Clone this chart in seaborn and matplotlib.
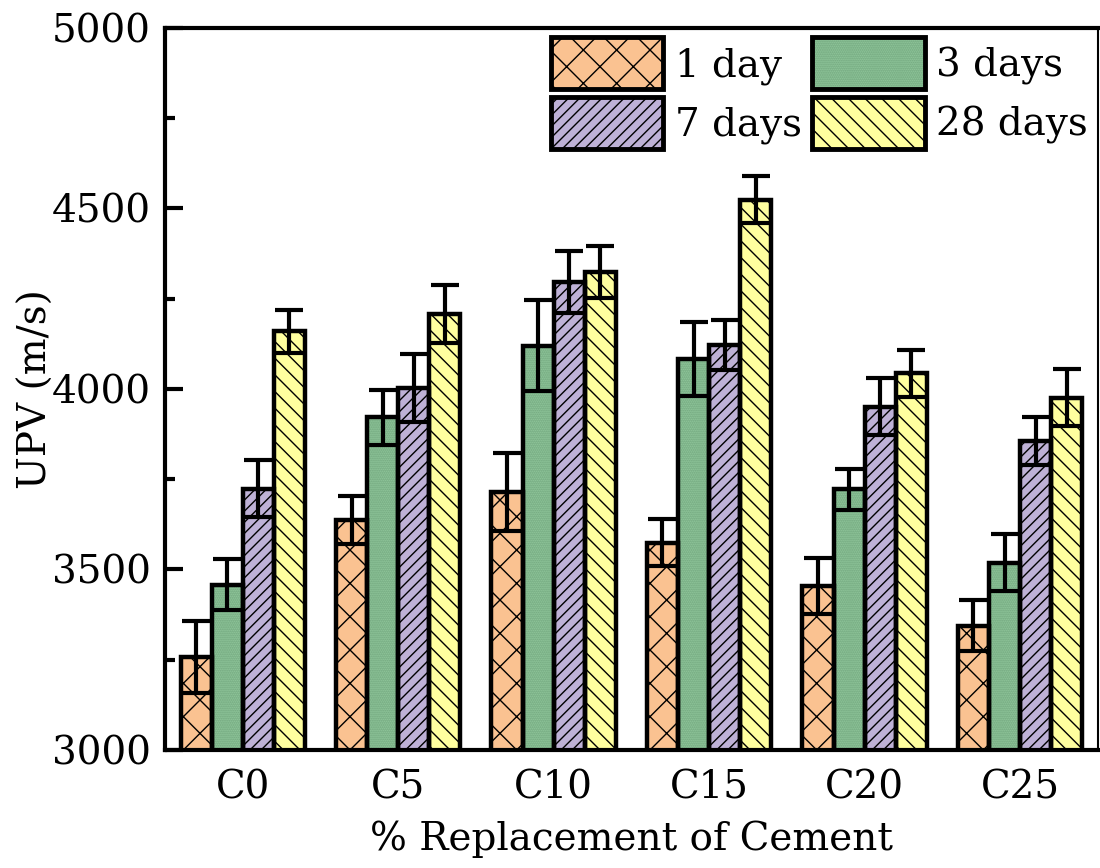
import numpy as np
import pandas as pd
import matplotlib
matplotlib.use("Agg")
import matplotlib.pyplot as plt
import matplotlib.patches as mpatches
from matplotlib.legend_handler import HandlerTuple
from matplotlib.ticker import MultipleLocator
import seaborn as sns

# Mix designs and curing ages
mixes = ["C0", "C5", "C10", "C15", "C20", "C25"]
ages = ["1 day", "3 days", "7 days", "28 days"]

# Mean ultrasonic pulse velocity (m/s)
upv_1d = [3258, 3637, 3715, 3574, 3454, 3344]
upv_3d = [3458, 3921, 4120, 4082, 3722, 3519]
upv_7d = [3724, 4002, 4296, 4122, 3951, 3856]
upv_28d = [4159, 4208, 4325, 4524, 4043, 3976]

# Standard deviations (m/s)
err_1d = [100, 67, 108, 65, 77, 70]
err_3d = [70, 76, 125, 103, 57, 78]
err_7d = [79, 95, 85, 70, 80, 67]
err_28d = [60, 80, 72, 66, 66, 78]

values = [upv_1d, upv_3d, upv_7d, upv_28d]
errors = [err_1d, err_3d, err_7d, err_28d]

fill_colors = ["#FAC291", "#96CDA1", "#BEB1D6", "#FFFF9F"]
hatch_colors = ["black", "#6A9E76", "black", "black"]
hatches = ["x", "........", "///", "\\\\"]

df = pd.DataFrame({
    "mix": np.tile(mixes, len(ages)),
    "age": np.repeat(ages, len(mixes)),
    "upv": np.concatenate(values),
})

sns.set_style("ticks")
plt.rcParams["font.family"] = ["DejaVu Serif"]
plt.rcParams["font.size"] = 28
plt.rcParams["hatch.linewidth"] = 1.0
for key in ["text.color", "axes.labelcolor", "xtick.color", "ytick.color", "axes.edgecolor"]:
    plt.rcParams[key] = "black"

fig = plt.figure(figsize=(11, 8.68), dpi=100)
ax = fig.add_axes([0.15, 0.136, 0.848, 0.832])

sns.barplot(data=df, x="mix", y="upv", hue="age", order=mixes, hue_order=ages,
            palette=fill_colors, saturation=1, errorbar=None, width=0.8,
            legend=False, ax=ax)

bar_containers = list(ax.containers)
for i, cont in enumerate(bar_containers):
    xs = []
    for bar in cont.patches:
        bar.set_hatch(hatches[i])
        bar.set_edgecolor(hatch_colors[i])
        bar.set_linewidth(0)
        outline = mpatches.Rectangle(bar.get_xy(), bar.get_width(), bar.get_height(),
                                     facecolor="none", edgecolor="black", lw=3.2,
                                     zorder=bar.get_zorder() + 0.1)
        ax.add_patch(outline)
        xs.append(bar.get_x() + bar.get_width() / 2)
    ax.errorbar(xs, values[i], yerr=errors[i], fmt="none", ecolor="black",
                elinewidth=3, capsize=10, capthick=3, zorder=5)

ax.set_ylim(3000, 5000)
ax.set_xlim(-0.5, 5.5)
ax.yaxis.set_major_locator(MultipleLocator(500))
ax.yaxis.set_minor_locator(MultipleLocator(250))
ax.tick_params(axis="y", which="major", direction="in", length=13, width=3, pad=10)
ax.tick_params(axis="y", which="minor", direction="in", length=7, width=3)
ax.tick_params(axis="x", length=0, pad=14)
for side in ["left", "bottom", "top"]:
    ax.spines[side].set_linewidth(3)
ax.spines["right"].set_linewidth(1.5)

ax.set_xlabel("% Replacement of Cement", labelpad=10)
ax.set_ylabel("UPV (m/s)")
ax.yaxis.set_label_coords(-0.118, 0.5)

handles = []
for i in range(4):
    fill = mpatches.Patch(facecolor=fill_colors[i], edgecolor=hatch_colors[i],
                          hatch=hatches[i], lw=0)
    edge = mpatches.Patch(facecolor="none", edgecolor="black", lw=3.5)
    handles.append((fill, edge))
order = [0, 2, 1, 3]
ax.legend([handles[k] for k in order], [ages[k] for k in order],
          handler_map={tuple: HandlerTuple(ndivide=1, pad=0)},
          loc="upper right", bbox_to_anchor=(1.0, 1.0), borderaxespad=0.15,
          borderpad=0.1, frameon=False, ncol=2, handlelength=2.9, handleheight=1.68,
          handletextpad=0.3, columnspacing=0.25, labelspacing=0.2)

fig.savefig("out.png", dpi=100)
